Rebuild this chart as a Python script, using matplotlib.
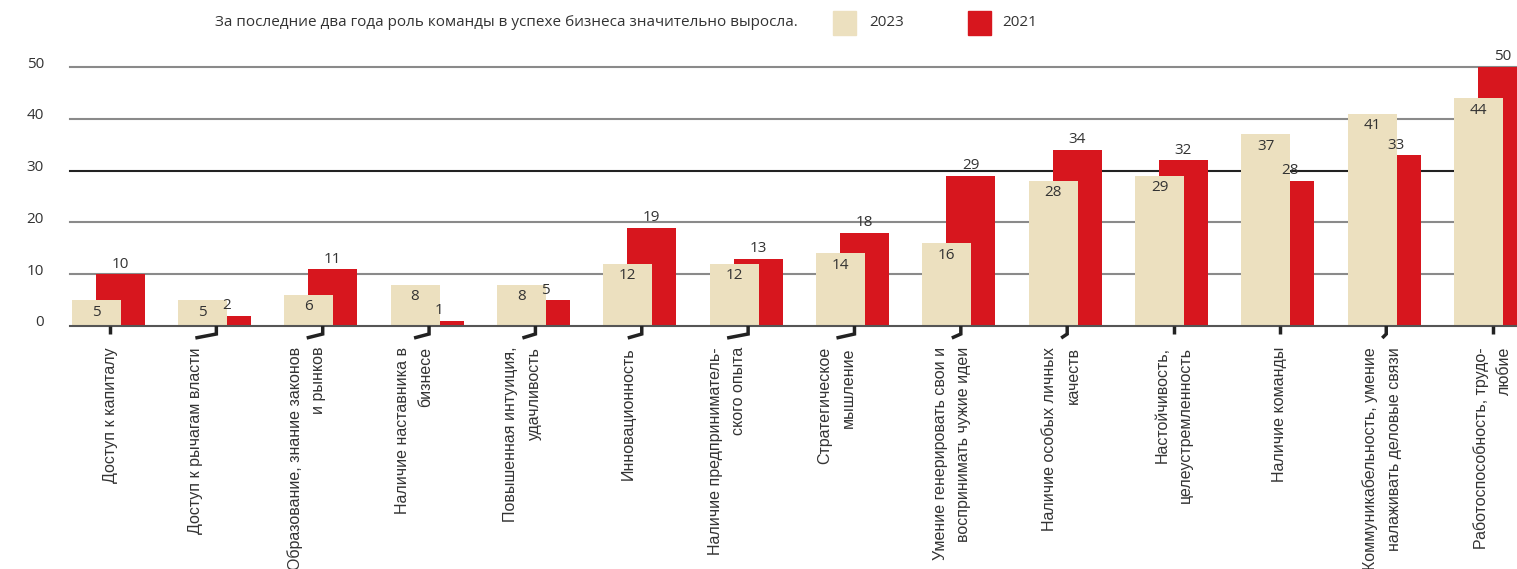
import numpy as np
import matplotlib
matplotlib.use('Agg')
import matplotlib.pyplot as plt

# data
labels = ['Доступ к капиталу',
          'Доступ к рычагам власти',
          'Образование, знание законов\nи рынков',
          'Наличие наставника в\nбизнесе',
          'Повышенная интуиция,\nудачливость',
          'Инновационность',
          'Наличие предприниматель-\nского опыта',
          'Стратегическое\nмышление',
          'Умение генерировать свои и\nвоспринимать чужие идеи',
          'Наличие особых личных\nкачеств',
          'Настойчивость,\nцелеустремленность',
          'Наличие команды',
          'Коммуникабельность, умение\nналаживать деловые связи',
          'Работоспособность, трудо-\nлюбие']
v2023 = [5, 5, 6, 8, 8, 12, 12, 14, 16, 28, 29, 37, 41, 44]
v2021 = [10, 2, 11, 1, 5, 19, 13, 18, 29, 34, 32, 28, 33, 50]
yticks = [0, 10, 20, 30, 40, 50]
title = 'За последние два года роль команды в успехе бизнеса значительно выросла.'

# little hooks under the axis (horizontal length in px)
hook = [0, 21, 16, 15, 13, 14, 21, 18, 9, 6, 0, 0, 4, 0]

BEIGE = '#ECE0BF'
RED = '#D7161E'
TXT = '#333333'
NUMFONT = ['Open Sans', 'DejaVu Sans']
LABFONT = ['Liberation Sans', 'DejaVu Sans']

W, H = 1517, 569
fig = plt.figure(figsize=(W/100, H/100), dpi=100)
ax = fig.add_axes([70/W, 1-326/H, 1-70/W, (326-67)/H])

x = np.arange(len(labels))
px = 106.35  # px per group
bw = 49/px
off = 12/px

ax.bar(x + off, v2021, width=bw, color=RED, zorder=2)
ax.bar(x - off, v2023, width=bw, color=BEIGE, zorder=3)
xl = -38/px
ax.set_xlim(xl, 13 + 26.4/px)
ax.set_ylim(0, 50)

upx = 50/(326-67)  # data units per px

for i in range(len(labels)):
    ax.text(x[i] - off, v2023[i] - 12*upx, str(v2023[i]), ha='center', va='center',
            fontsize=11, color=TXT, family=NUMFONT, zorder=4)
    ax.text(x[i] + off, v2021[i] + 10*upx, str(v2021[i]), ha='center', va='center',
            fontsize=11, color=TXT, family=NUMFONT, zorder=4, clip_on=False)

# grid
for t in yticks:
    c = '#222222' if t == 30 else '#8a8a8a'
    if t == 0:
        c = '#555555'
    ax.axhline(t, color=c, lw=1.5, zorder=1 if t else 5, clip_on=False)
    ax.text(xl - 26/px, t + 3*upx, str(t), ha='right', va='center', fontsize=11,
            color=TXT, family=NUMFONT, clip_on=False)

# hooks + category labels
for i in range(len(labels)):
    tx = x[i] + 2/px
    xs = [tx, tx]
    ys = [0, -8*upx]
    if hook[i]:
        xs.append(tx - hook[i]/px)
        ys.append(-12*upx)
    ax.plot(xs, ys, color='#222222', lw=2.5, clip_on=False, solid_capstyle='butt',
            solid_joinstyle='miter', zorder=5)
    ax.text(tx - hook[i]/px, -21*upx, labels[i], rotation=90, rotation_mode='anchor',
            ha='right', va='center', multialignment='right', fontsize=11.5,
            color=TXT, family=LABFONT, linespacing=1.7)

for s in ax.spines.values():
    s.set_visible(False)
ax.set_xticks([])
ax.set_yticks([])

# title + legend
fig.text(215/W, 1-23/H, title, ha='left', va='center', fontsize=11, color=TXT, family=NUMFONT)
fig.patches.append(plt.Rectangle((833/W, 1-35/H), 23/W, 24/H, transform=fig.transFigure,
                                 color=BEIGE, figure=fig))
fig.text(869/W, 1-23/H, '2023', ha='left', va='center', fontsize=11, color=TXT, family=NUMFONT)
fig.patches.append(plt.Rectangle((968/W, 1-35/H), 23/W, 24/H, transform=fig.transFigure,
                                 color=RED, figure=fig))
fig.text(1002/W, 1-23/H, '2021', ha='left', va='center', fontsize=11, color=TXT, family=NUMFONT)

fig.savefig('out.png', dpi=100)
